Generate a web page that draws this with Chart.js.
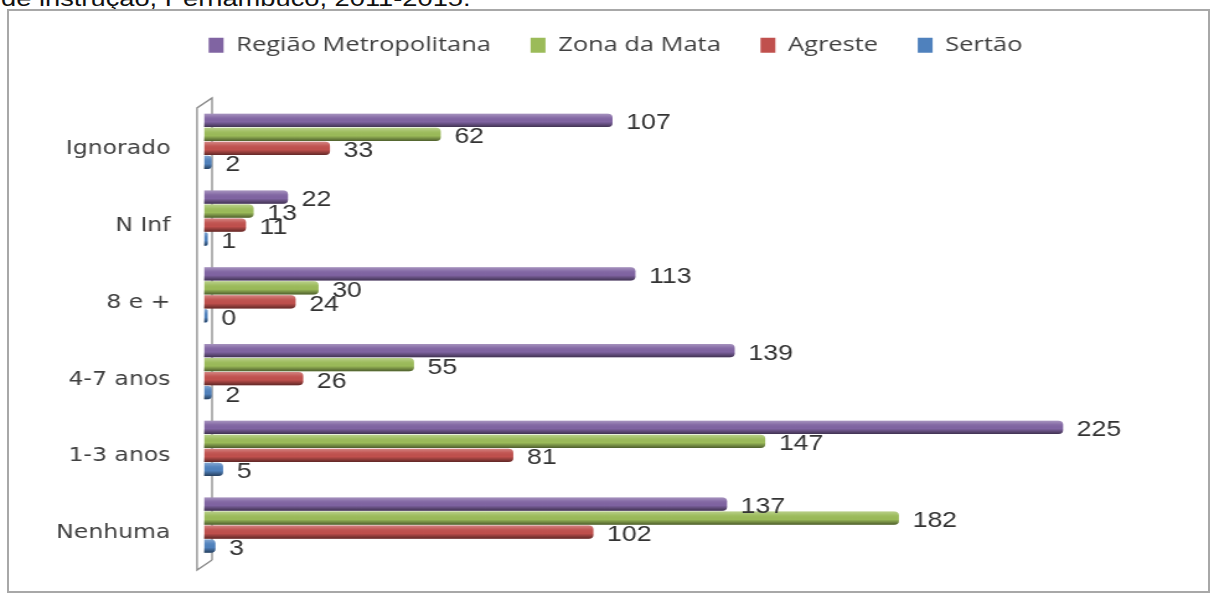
<!DOCTYPE html>
<html lang="pt">
<head>
<meta charset="utf-8">
<script src="https://cdn.jsdelivr.net/npm/chart.js@4.4.1/dist/chart.umd.min.js"></script>
<style>
  html, body { margin: 0; padding: 0; background: #fff; overflow: hidden; }
  body { width: 1211px; height: 594px; position: relative; }
  #titulo {
    position: absolute; left: 1px; top: -13px;
    font: 22px "Liberation Sans", Arial, sans-serif; line-height: 24px;
    color: #111; white-space: nowrap;
    transform: scaleX(1.24); transform-origin: 0 0;
  }
  #quadro {
    position: absolute; left: 7px; top: 9px; width: 1203px; height: 584px;
    box-sizing: border-box; border: 2px solid #a8a8a8;
  }
  #grafico { position: absolute; left: 0; top: 0; transform: scaleX(1.24); transform-origin: 0 0; }
</style>
</head>
<body>
<div id="titulo">de instrução, Pernambuco, 2011-2015.</div>
<div id="quadro"></div>
<canvas id="grafico" width="977" height="594"></canvas>
<script>
const categorias = ['Ignorado', 'N Inf', '8 e +', '4-7 anos', '1-3 anos', 'Nenhuma'];
const regioes = ['Região Metropolitana', 'Zona da Mata', 'Agreste', 'Sertão'];
const regiaoMetropolitana = [107, 22, 113, 139, 225, 137];
const zonaDaMata = [62, 13, 30, 55, 147, 182];
const agreste = [33, 11, 24, 26, 81, 102];
const sertao = [2, 1, 0, 2, 5, 3];

const cores = ['#8064A2', '#9BBB59', '#C0504D', '#4F81BD'];
const valores = [regiaoMetropolitana, zonaDaMata, agreste, sertao];

// parede lateral do eixo (efeito 3D)
const parede = {
  id: 'parede',
  beforeDatasetsDraw(chart) {
    const { ctx, chartArea: a } = chart;
    const xf = a.left - 5.6, xt = a.left + 6.5;
    ctx.save();
    ctx.strokeStyle = '#8a8a8a';
    ctx.lineWidth = 1.3;
    ctx.beginPath();
    ctx.moveTo(xt, a.bottom - 3.4);
    ctx.lineTo(xt, a.top - 5.2);
    ctx.lineTo(xf, a.top + 4.8);
    ctx.lineTo(xf, a.bottom + 6.6);
    ctx.lineTo(xt, a.bottom - 3.4);
    ctx.stroke();
    ctx.restore();
  }
};

// brilho e sombra nas barras + rótulos de valor
const acabamento = {
  id: 'acabamento',
  afterDatasetsDraw(chart) {
    const ctx = chart.ctx;
    ctx.save();
    chart.data.datasets.forEach((ds, i) => {
      chart.getDatasetMeta(i).data.forEach(bar => {
        const { x, y, base, height } = bar.getProps(['x', 'y', 'base', 'height'], true);
        const top = y - height / 2;
        const g = ctx.createLinearGradient(0, top, 0, top + height);
        g.addColorStop(0, 'rgba(255,255,255,0.3)');
        g.addColorStop(0.3, 'rgba(255,255,255,0.05)');
        g.addColorStop(0.6, 'rgba(0,0,0,0)');
        g.addColorStop(1, 'rgba(0,0,0,0.5)');
        ctx.fillStyle = g;
        ctx.beginPath();
        ctx.roundRect(base, top, x - base, height, [0, 4, 4, 0]);
        ctx.fill();
      });
    });
    ctx.font = '21.5px "Liberation Sans", Arial, sans-serif';
    ctx.fillStyle = '#333';
    ctx.textAlign = 'left';
    ctx.textBaseline = 'middle';
    chart.data.datasets.forEach((ds, i) => {
      chart.getDatasetMeta(i).data.forEach((bar, j) => {
        const { x, y } = bar.getProps(['x', 'y'], true);
        ctx.fillText(String(ds.data[j]), x + 11, y + 3);
      });
    });
    ctx.restore();
  }
};

new Chart(document.getElementById('grafico'), {
  type: 'bar',
  data: {
    labels: categorias,
    datasets: regioes.map((nome, i) => ({
      label: nome,
      data: valores[i],
      backgroundColor: cores[i],
      borderWidth: 0,
      borderRadius: 4,
      borderSkipped: 'start',
      minBarLength: 3,
      categoryPercentage: 0.73,
      barPercentage: 0.95
    }))
  },
  options: {
    indexAxis: 'y',
    responsive: false,
    animation: false,
    layout: { padding: { left: 20, right: 4.2, top: 3, bottom: 30.6 } },
    scales: {
      x: {
        type: 'linear', position: 'top', min: 0, max: 262.5,
        grid: { display: false }, border: { display: false },
        ticks: { display: false },
        afterFit(s) { s.height = 37.6; }
      },
      y: {
        grid: { display: false, drawTicks: false }, border: { display: false },
        ticks: {
          color: '#404040', padding: 27, labelOffset: 8,
          font: { family: '"DejaVu Sans", sans-serif', size: 19 }
        },
        afterFit(s) {
          s.width = 144.5;
          s.paddingTop = 0;
          s.paddingBottom = 0;
        }
      }
    },
    plugins: {
      legend: {
        position: 'top',
        labels: {
          boxWidth: 12, boxHeight: 15, padding: 32, color: '#404040',
          font: { family: '"Open Sans", sans-serif', size: 20.5 },
          generateLabels(chart) {
            return Chart.defaults.plugins.legend.labels.generateLabels(chart)
              .map(l => ({ ...l, lineWidth: 0 }));
          }
        }
      },
      tooltip: { enabled: false }
    }
  },
  plugins: [parede, acabamento]
});
</script>
</body>
</html>
